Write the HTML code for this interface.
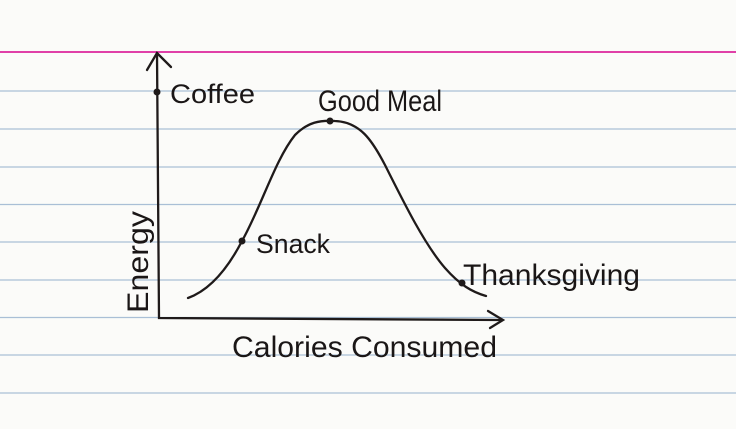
<!DOCTYPE html>
<html><head><style>
html,body{margin:0;padding:0;background:#fbfbf9;}
svg{display:block;}
text{font-family:"Liberation Sans",sans-serif;fill:#1a1616;}
</style></head><body>
<svg width="736" height="429" viewBox="0 0 736 429">
<rect width="736" height="429" fill="#fbfbf9"/>
<g stroke="#a9bfd6" stroke-width="1.3">
<line x1="0" y1="91" x2="736" y2="91"/>
<line x1="0" y1="129" x2="736" y2="129"/>
<line x1="0" y1="167" x2="736" y2="167"/>
<line x1="0" y1="204.5" x2="736" y2="204.5"/>
<line x1="0" y1="242" x2="736" y2="242"/>
<line x1="0" y1="280" x2="736" y2="280"/>
<line x1="0" y1="317.5" x2="736" y2="317.5"/>
<line x1="0" y1="355" x2="736" y2="355"/>
<line x1="0" y1="393" x2="736" y2="393"/>
</g>
<line x1="0" y1="52" x2="736" y2="52" stroke="#e040a8" stroke-width="2"/>
<g stroke="#1f1a1a" stroke-width="2.3" fill="none" stroke-linecap="round">
<path d="M157 53 L159 318 L500 320"/>
<path d="M147 70 L157 53 L171 67"/>
<path d="M488 311 L503 320 L490 328"/>
<path d="M188 298 C210 290 228 268 242 241 C262 205 275 160 295 135 C308 122 320 120 335 121 C360 122 372 140 385 165 C405 205 425 245 445 268 C460 285 472 292 486 296"/>
</g>
<g fill="#1f1a1a">
<circle cx="157" cy="92" r="3.5"/>
<circle cx="242" cy="241" r="3.5"/>
<circle cx="330" cy="121" r="3.5"/>
<circle cx="462" cy="283" r="3.5"/>
</g>
<text x="170" y="103" font-size="27" textLength="85" lengthAdjust="spacingAndGlyphs">Coffee</text>
<text x="318" y="111" font-size="30" textLength="124" lengthAdjust="spacingAndGlyphs">Good Meal</text>
<text x="256" y="253" font-size="27" textLength="74" lengthAdjust="spacingAndGlyphs">Snack</text>
<text x="463" y="285" font-size="30" textLength="177" lengthAdjust="spacingAndGlyphs">Thanksgiving</text>
<text x="232" y="357" font-size="30" textLength="265" lengthAdjust="spacingAndGlyphs">Calories Consumed</text>
<text transform="translate(148,313) rotate(-90)" font-size="30" textLength="102" lengthAdjust="spacingAndGlyphs">Energy</text>
</svg>
</body></html>
